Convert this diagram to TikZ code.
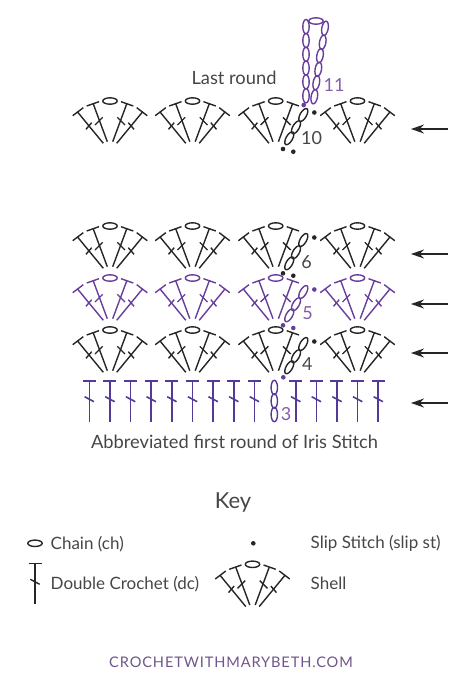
\documentclass[tikz,border=0pt]{standalone}
\usepackage{fontspec}
\setmainfont{Lato}
\usepackage{xcolor}
\usetikzlibrary{arrows.meta}
\definecolor{inkblack}{RGB}{38,38,40}
\definecolor{inkpurple}{RGB}{104,62,156}
\definecolor{inkindigo}{RGB}{84,58,150}
\definecolor{textgray}{RGB}{70,70,72}
\definecolor{numpurple}{RGB}{132,92,172}
\definecolor{sitepurple}{RGB}{112,84,140}

\tikzset{
  pics/chainoval/.style={code={\draw (0,0) ellipse [x radius=7.2,y radius=3.2];}},
  pics/outerdc/.style={code={
    \draw (-6.7,42.3) -- (-32.7,10.7);
    \draw (-37.3,14.7) -- (-26.7,6.7);
    \draw (-24,28.3) -- (-18.3,21.7);}},
  pics/innerdc/.style={code={
    \draw (-2.7,40.7) -- (-16.7,3);
    \draw (-23.3,5) -- (-11,0.7);
    \draw (-15,24) -- (-7.3,16.3);}},
  pics/shell/.style={code={
    \pic {chainoval};
    \pic {outerdc}; \pic {innerdc};
    \pic[xscale=-1] {innerdc}; \pic[xscale=-1] {outerdc};}},
  pics/openshell/.style={code={
    \pic {chainoval};
    \pic {outerdc}; \pic {innerdc};
    \pic[xscale=-1] {innerdc};
    \pic[rotate=60] at (13.6,37.3) {chainoval};
    \pic[rotate=60] at (20.3,26.3) {chainoval};
    \pic[rotate=60] at (27.6,14) {chainoval};}},
  pics/dcstitch/.style={code={
    \draw (0,0) -- (0,41);
    \draw (-6.5,0) -- (6.5,0);
    \draw (-4.7,16) -- (4.7,21);}}
}

\begin{document}
\begin{tikzpicture}[
  x=1pt,y=-1pt,line width=1.4pt,
  dotstyle/.style={circle,fill,inner sep=0pt,minimum size=4.6pt},
  label/.style={font=\fontsize{17}{20}\selectfont,text=textgray,inner sep=0pt},
  number/.style={font=\fontsize{18}{20}\selectfont,inner sep=0pt},
  arrow/.style={-{Stealth[length=13pt,width=9pt]},draw=inkblack,line width=1.2pt}
]
\useasboundingbox (0,0) rectangle (476,699);

% rows of shells
\foreach \rowy/\rowcolor in {101/inkblack,226/inkblack,278/inkpurple,330/inkblack}{
  \foreach \shellx in {110,192.5,357.5}
    \pic[color=\rowcolor] at (\shellx,\rowy) {shell};
  \pic[color=\rowcolor] at (275.7,\rowy) {openshell};
  \node[dotstyle,color=\rowcolor] (right\rowy) at (314.3,\rowy+11.5) {};
}
\foreach \dotx/\doty/\dotname/\dotcolor in {
  283/149/a/inkblack,293.3/151.7/b/inkblack,
  283/273.3/c/inkblack,293.3/275.7/d/inkblack,
  283/325.3/e/inkpurple,293.3/328/f/inkpurple,
  283.3/377.3/g/inkpurple,303.7/105/h/inkpurple}
  \node[dotstyle,color=\dotcolor] (dot\dotname) at (\dotx,\doty) {};

% base row
\foreach \i in {0,...,14}{
  \ifnum\i=9\else
    \pic[color=inkindigo,line width=1.6pt] at (89.3+\i*20.64,380.7) {dcstitch};
  \fi
}
\foreach \y in {387.5,401,414.5}
  \pic[color=inkindigo,rotate=90] at (274.3,\y) {chainoval};

% turning chain
\foreach \y in {26.7,40.5,54.3,68,81.8,95.7}
  \pic[color=inkpurple,rotate=90] at (306,\y) {chainoval};
\foreach \x/\y in {325/28.3,322.7/42.3,320/55.7,318.3/69.3,316.3/82.7,314.3/96.7}
  \pic[color=inkpurple,rotate=80] at (\x,\y) {chainoval};
\pic[color=inkpurple] at (316,21) {chainoval};

% numbers
\node[number,text=numpurple] (n11) at (334,85) {11};
\node[number,text=textgray] (n10) at (311.5,138) {10};
\node[number,text=textgray] (n6) at (306.7,262) {6};
\node[number,text=numpurple] (n5) at (307.7,313) {5};
\node[number,text=textgray] (n4) at (307.3,364.5) {4};
\node[number,text=numpurple] (n3) at (286,414) {3};

% arrows
\foreach \y in {129,254,304,353,403}{
  \coordinate (tail\y) at (448,\y);
  \coordinate (tip\y) at (411,\y);
  \draw[arrow] (tail\y) -- (tip\y);
}

% labels
\node[label,font=\fontsize{18.3}{22}\selectfont] (last) at (234,78) {Last round};
\node[label,font=\fontsize{18.3}{22}\selectfont] (abbrev) at (234.5,441.5) {Abbreviated first round of Iris Stitch};
\node[label,font=\fontsize{22}{26}\selectfont] (keytitle) at (233,502) {Key};

% key
\pic[color=inkblack] at (35,543.3) {chainoval};
\node[label,anchor=west] (keychain) at (50,543.7) {Chain (ch)};
\pic[color=inkblack] at (35,563.3) {dcstitch};
\node[label,anchor=west] (keydc) at (50,583.7) {Double Crochet (dc)};
\node[dotstyle,color=inkblack] (keydot) at (253.3,543.3) {};
\node[label,anchor=west] (keyslip) at (310,543.7) {Slip Stitch (slip st)};
\pic[color=inkblack] at (252.5,564.3) {shell};
\node[label,anchor=west] (keyshell) at (310,583.7) {Shell};

\node[label,text=sitepurple,font=\fontsize{14.6}{16}\selectfont\addfontfeatures{LetterSpace=6}] (site) at (231,662.5) {CROCHETWITHMARYBETH.COM};
\end{tikzpicture}
\end{document}
